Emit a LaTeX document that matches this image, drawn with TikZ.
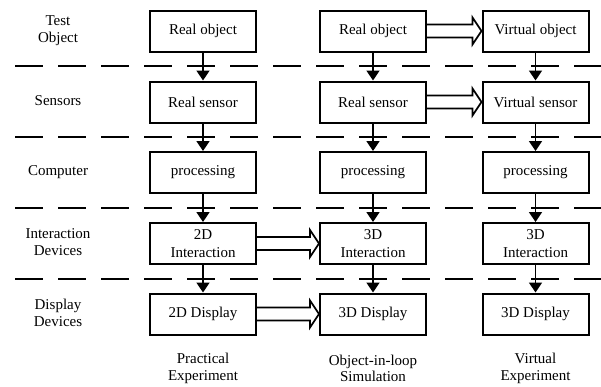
\documentclass[tikz,border=0pt]{standalone}
\usepackage{fontspec}
\setmainfont{Liberation Serif}
\usetikzlibrary{arrows.meta,calc}

\tikzset{
  stage/.style={draw, line width=2pt, minimum width=106pt, minimum height=41pt,
    inner sep=2pt, align=center, font=\fontsize{15}{17.5}\selectfont},
  rowlabel/.style={align=center, font=\fontsize{15}{17.5}\selectfont},
  coltitle/.style={align=center, inner sep=1pt, font=\fontsize{15}{16.5}\selectfont},
  divider/.style={line width=2pt, dash pattern=on 28pt off 15pt},
  flow/.style={line width=1.6pt, -{Triangle[width=13pt,length=10pt]}},
  dblarr/.style={line width=1.7pt, line join=miter}
}

% hollow double-line arrow from the east side of #1 to the west side of #2
\newcommand\dblarrow[2]{%
  \draw[dblarr] ($(#1.east)+(0,-6.5)$) -- ($(#2.west)+(-9,-6.5)$)
    -- ($(#2.west)+(-9,-13.5)$) -- (#2.west) -- ($(#2.west)+(-9,13.5)$)
    -- ($(#2.west)+(-9,6.5)$) -- ($(#1.east)+(0,6.5)$);}

\begin{document}
\begin{tikzpicture}[x=1pt,y=-1pt]
\useasboundingbox (0,0) rectangle (601,386);

% layer dividers
\foreach \yy in {66,137,208,279}
  \draw[divider] (15,\yy) -- (601,\yy);

% layer names
\node[rowlabel] (lTest) at (58,30.5) {Test\\Object};
\node[rowlabel] (lSens) at (58,101) {Sensors};
\node[rowlabel] (lComp) at (58,172) {Computer};
\node[rowlabel] (lInter) at (58,242) {Interaction\\Devices};
\node[rowlabel] (lDisp) at (58,313) {Display\\Devices};

% practical experiment
\node[stage] (a1) at (203,31) {Real object};
\node[stage] (a2) at (203,102) {Real sensor};
\node[stage] (a3) at (203,172.5) {processing};
\node[stage] (a4) at (203,243.5) {2D\\Interaction};
\node[stage] (a5) at (203,314) {2D Display};

% object-in-loop simulation
\node[stage] (b1) at (373,31) {Real object};
\node[stage] (b2) at (373,102) {Real sensor};
\node[stage] (b3) at (373,172.5) {processing};
\node[stage] (b4) at (373,243.5) {3D\\Interaction};
\node[stage] (b5) at (373,314) {3D Display};

% virtual experiment
\node[stage] (c1) at (535.5,31) {Virtual object};
\node[stage] (c2) at (535.5,102) {Virtual sensor};
\node[stage] (c3) at (535.5,172.5) {processing};
\node[stage] (c4) at (535.5,243.5) {3D\\Interaction};
\node[stage] (c5) at (535.5,314) {3D Display};

% column titles
\node[coltitle] (tA) at (203,368.5) {Practical\\Experiment};
\node[coltitle] (tB) at (373,368.5) {Object-in-loop\\Simulation};
\node[coltitle] (tC) at (535.5,368.5) {Virtual\\Experiment};

% vertical data flow
\foreach \c in {a,b,c}{
  \draw[flow] (\c1) -- (\c2);
  \draw[flow] (\c2) -- (\c3);
  \draw[flow] (\c3) -- (\c4);
  \draw[flow] (\c4) -- (\c5);
}

% substitutions between columns
\dblarrow{b1}{c1}
\dblarrow{b2}{c2}
\dblarrow{a4}{b4}
\dblarrow{a5}{b5}
\end{tikzpicture}
\end{document}
